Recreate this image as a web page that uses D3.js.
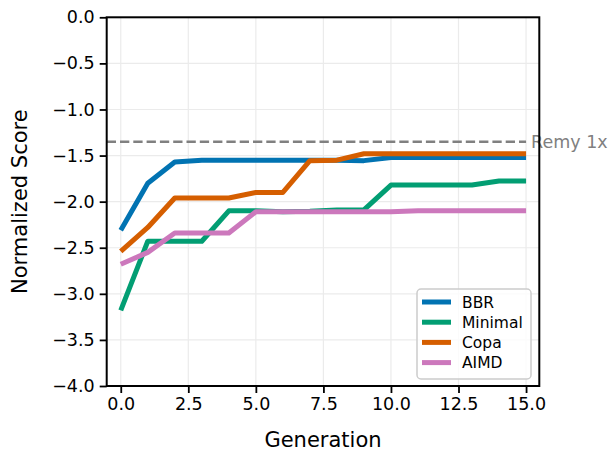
<!DOCTYPE html>
<html>
<head>
<meta charset="utf-8">
<script src="https://cdn.jsdelivr.net/npm/d3@7"></script>
<style>
  body { margin: 0; background: #fff; }
  svg text { font-family: "DejaVu Sans", sans-serif; }
</style>
</head>
<body>
<script>
// data
const generations = [0, 1, 2, 3, 4, 5, 6, 7, 8, 9, 10, 11, 12, 13, 14, 15];
const bbr     = [-2.31, -1.80, -1.57, -1.55, -1.55, -1.55, -1.55, -1.55, -1.55, -1.555, -1.52, -1.52, -1.52, -1.52, -1.52, -1.52];
const minimal = [-3.18, -2.43, -2.43, -2.43, -2.10, -2.10, -2.11, -2.105, -2.09, -2.09, -1.82, -1.82, -1.82, -1.82, -1.775, -1.775];
const copa    = [-2.54, -2.28, -1.96, -1.96, -1.96, -1.90, -1.90, -1.555, -1.55, -1.48, -1.48, -1.48, -1.48, -1.48, -1.48, -1.48];
const aimd    = [-2.68, -2.55, -2.34, -2.34, -2.34, -2.11, -2.11, -2.11, -2.11, -2.11, -2.11, -2.10, -2.10, -2.10, -2.10, -2.10];
const remyScore = -1.35;
const remyLabel = "Remy 1x";
const seriesNames = ["BBR", "Minimal", "Copa", "AIMD"];
const seriesColors = ["#0173b2", "#029e73", "#d55e00", "#cc78bc"];
const xTicks = [0, 2.5, 5, 7.5, 10, 12.5, 15];
const yTicks = [0, -0.5, -1, -1.5, -2, -2.5, -3, -3.5, -4];

const series = [bbr, minimal, copa, aimd].map((vals, i) => ({
    name: seriesNames[i], color: seriesColors[i], values: vals
}));

const W = 616, H = 452;
const margin = { top: 17.3, right: W - 539.3, bottom: H - 386, left: 106.7 };
const width = W - margin.left - margin.right,
      height = H - margin.top - margin.bottom;

const x = d3.scaleLinear().domain([-0.52, 15.49]).range([0, width]);
const y = d3.scaleLinear().domain([-4, 0]).range([height, 0]);
const fmt = d3.format(".1f");
const minus = s => s.replace("-", "\u2212");

const svg = d3.select("body").append("svg")
    .attr("width", W).attr("height", H);
const g = svg.append("g")
    .attr("transform", "translate(" + margin.left + "," + margin.top + ")");

// grid
g.append("g").selectAll("line").data(xTicks).join("line")
    .attr("x1", d => x(d)).attr("x2", d => x(d))
    .attr("y1", 0).attr("y2", height)
    .attr("stroke", "#ebebeb").attr("stroke-width", 1.2);
g.append("g").selectAll("line").data(yTicks).join("line")
    .attr("x1", 0).attr("x2", width)
    .attr("y1", d => y(d)).attr("y2", d => y(d))
    .attr("stroke", "#ebebeb").attr("stroke-width", 1.2);

// remy reference line
g.append("line")
    .attr("x1", 0).attr("x2", x(15))
    .attr("y1", y(remyScore)).attr("y2", y(remyScore))
    .attr("stroke", "#808080").attr("stroke-width", 2.5)
    .attr("stroke-dasharray", "9.3,4");
g.append("text")
    .attr("x", x(15) + 5).attr("y", y(remyScore))
    .attr("dy", "0.35em")
    .attr("fill", "#808080").attr("font-size", 17.5)
    .text(remyLabel);

// series lines
const line = d3.line()
    .x((d, i) => x(generations[i]))
    .y(d => y(d));
series.forEach(function (s) {
    g.append("path")
        .attr("d", line(s.values))
        .attr("fill", "none")
        .attr("stroke", s.color)
        .attr("stroke-width", 5)
        .attr("stroke-linejoin", "round");
});

// axes
const xAxis = d3.axisBottom(x).tickValues(xTicks).tickFormat(fmt).tickSize(7).tickPadding(5);
const yAxis = d3.axisLeft(y).tickValues(yTicks).tickFormat(d => minus(fmt(d))).tickSize(7).tickPadding(5);
const xg = g.append("g").attr("transform", "translate(0," + height + ")").call(xAxis);
const yg = g.append("g").call(yAxis);
[xg, yg].forEach(function (ax) {
    ax.select(".domain").remove();
    ax.selectAll(".tick line").attr("stroke", "#000").attr("stroke-width", 1.8);
    ax.selectAll(".tick text").attr("font-size", 17.5).attr("fill", "#000")
        .style("font-family", "DejaVu Sans");
});

// frame
g.append("rect")
    .attr("width", width).attr("height", height)
    .attr("fill", "none").attr("stroke", "#000").attr("stroke-width", 2);

// axis labels
svg.append("text")
    .attr("x", margin.left + width / 2).attr("y", 447)
    .attr("text-anchor", "middle").attr("font-size", 21)
    .text("Generation");
svg.append("text")
    .attr("transform", "translate(27," + (margin.top + height / 2) + ") rotate(-90)")
    .attr("text-anchor", "middle").attr("font-size", 21)
    .text("Normalized Score");

// legend
const legend = svg.append("g").attr("transform", "translate(417,289)");
legend.append("rect")
    .attr("width", 114).attr("height", 90).attr("rx", 4)
    .attr("fill", "#fff").attr("fill-opacity", 0.8)
    .attr("stroke", "#cccccc").attr("stroke-width", 1.5);
series.forEach(function (s, i) {
    const ly = 13 + i * 20.2;
    legend.append("line")
        .attr("x1", 5).attr("x2", 34)
        .attr("y1", ly).attr("y2", ly)
        .attr("stroke", s.color).attr("stroke-width", 5);
    legend.append("text")
        .attr("x", 45).attr("y", ly).attr("dy", "0.36em")
        .attr("font-size", 15.5)
        .text(s.name);
});
</script>
</body>
</html>
